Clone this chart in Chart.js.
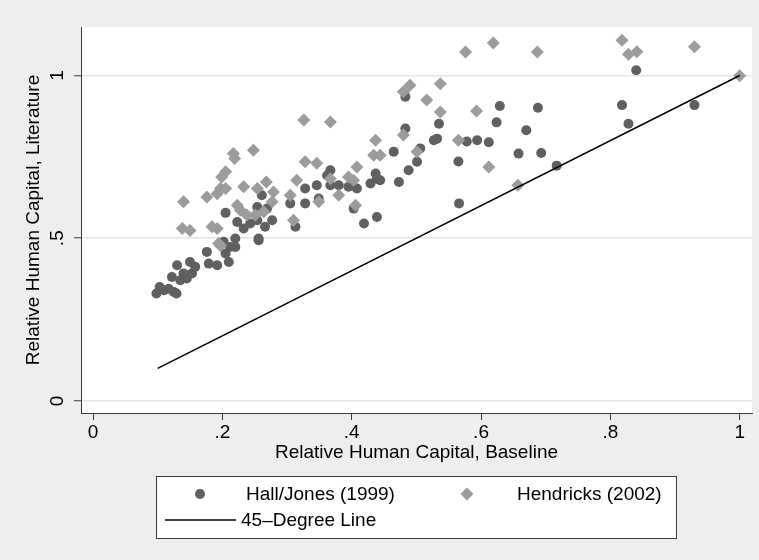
<!DOCTYPE html>
<html>
<head>
<meta charset="utf-8">
<script src="https://cdn.jsdelivr.net/npm/chart.js@4.4.1/dist/chart.umd.min.js"></script>
<style>
  html, body { margin: 0; padding: 0; background: #eeeeee; }
  #wrap { width: 759px; height: 560px; }
</style>
</head>
<body>
<div id="wrap"><canvas id="chart" width="759" height="560"></canvas></div>
<script>
// data
const hallJonesX = [0.098,0.103,0.110,0.117,0.125,0.129,0.122,0.130,0.135,0.140,0.145,0.150,0.153,0.158,0.176,0.179,0.192,0.210,0.205,0.220,0.256,0.205,0.261,0.305,0.254,0.269,0.277,0.223,0.233,0.243,0.254,0.266,0.256,0.220,0.212,0.202,0.313,0.483,0.535,0.527,0.532,0.506,0.465,0.501,0.488,0.473,0.437,0.439,0.444,0.429,0.408,0.395,0.380,0.367,0.362,0.367,0.346,0.328,0.328,0.349,0.403,0.419,0.439,0.629,0.688,0.624,0.670,0.578,0.594,0.612,0.658,0.693,0.565,0.717,0.566,0.840,0.818,0.828,0.930,0.483];
const hallJonesY = [0.330,0.350,0.340,0.345,0.335,0.330,0.381,0.417,0.371,0.392,0.376,0.427,0.392,0.412,0.458,0.422,0.417,0.427,0.453,0.473,0.494,0.578,0.632,0.607,0.596,0.591,0.555,0.550,0.530,0.545,0.555,0.535,0.499,0.499,0.473,0.489,0.535,0.837,0.852,0.801,0.806,0.776,0.766,0.735,0.709,0.673,0.699,0.683,0.678,0.668,0.653,0.658,0.663,0.709,0.693,0.663,0.663,0.653,0.607,0.622,0.591,0.545,0.565,0.906,0.901,0.856,0.832,0.797,0.801,0.795,0.760,0.762,0.736,0.723,0.607,1.016,0.909,0.852,0.909,0.935];

const hendricksX = [0.197,0.140,0.217,0.219,0.248,0.205,0.199,0.176,0.192,0.197,0.205,0.233,0.254,0.268,0.279,0.223,0.228,0.238,0.251,0.264,0.277,0.138,0.150,0.184,0.192,0.194,0.305,0.315,0.310,0.326,0.367,0.437,0.480,0.328,0.346,0.380,0.395,0.408,0.403,0.434,0.444,0.349,0.406,0.501,0.367,0.537,0.537,0.593,0.565,0.612,0.657,0.818,0.828,0.841,0.930,1.000,0.576,0.619,0.687,0.516,0.480,0.490];
const hendricksY = [0.478,0.612,0.760,0.745,0.770,0.704,0.688,0.627,0.637,0.653,0.653,0.658,0.653,0.673,0.642,0.601,0.586,0.571,0.571,0.581,0.612,0.530,0.524,0.535,0.530,0.484,0.632,0.678,0.555,0.863,0.857,0.801,0.817,0.735,0.730,0.632,0.688,0.719,0.678,0.755,0.755,0.612,0.601,0.766,0.683,0.975,0.888,0.891,0.801,0.719,0.663,1.108,1.065,1.073,1.088,0.999,1.072,1.100,1.072,0.925,0.950,0.970];

const lineX = [0.1, 1];
const lineY = [0.1, 1];

const xTicks = [0, 0.2, 0.4, 0.6, 0.8, 1];
const xTickLabels = ["0", ".2", ".4", ".6", ".8", "1"];
const yTicks = [0, 0.5, 1];
const yTickLabels = ["0", ".5", "1"];

const seriesNames = ["Hall/Jones (1999)", "Hendricks (2002)", "45\u2013Degree Line"];

const toPoints = (xs, ys) => xs.map((x, i) => ({ x: x, y: ys[i] }));

const FONT = "'Liberation Sans', Arial, sans-serif";
const darkGray = "#606060";
const lightGray = "#9c9c9c";
const axisColor = "#3a3a3a";

// white plot region on gray background
const plotBg = {
  id: "plotBg",
  beforeDraw(chart) {
    const { ctx, chartArea: a } = chart;
    ctx.save();
    ctx.fillStyle = "#eeeeee";
    ctx.fillRect(0, 0, chart.width, chart.height);
    ctx.fillStyle = "#ffffff";
    ctx.fillRect(a.left, a.top, a.right - a.left, a.bottom - a.top);
    ctx.restore();
  }
};

// Stata-style legend box under the plot
const boxLegend = {
  id: "boxLegend",
  afterDraw(chart) {
    const ctx = chart.ctx;
    const ds = chart.data.datasets;
    ctx.save();
    ctx.fillStyle = "#ffffff";
    ctx.fillRect(156, 476, 520, 62);
    ctx.strokeStyle = axisColor;
    ctx.lineWidth = 1;
    ctx.strokeRect(156.5, 476.5, 520, 62);

    ctx.font = "19px " + FONT;
    ctx.textBaseline = "middle";
    ctx.textAlign = "left";

    // row 1
    ctx.fillStyle = darkGray;
    ctx.beginPath();
    ctx.arc(200, 494, 5, 0, Math.PI * 2);
    ctx.fill();
    ctx.fillStyle = lightGray;
    ctx.beginPath();
    ctx.moveTo(467, 494 - 6.5); ctx.lineTo(467 + 6.5, 494);
    ctx.lineTo(467, 494 + 6.5); ctx.lineTo(467 - 6.5, 494);
    ctx.closePath();
    ctx.fill();
    ctx.fillStyle = "#000000";
    ctx.fillText(ds[0].label, 246, 495);
    ctx.fillText(ds[1].label, 517, 495);

    // row 2
    ctx.strokeStyle = "#000000";
    ctx.lineWidth = 1.5;
    ctx.beginPath();
    ctx.moveTo(165, 520); ctx.lineTo(236, 520);
    ctx.stroke();
    ctx.fillText(ds[2].label, 241, 521);
    ctx.restore();
  }
};

new Chart(document.getElementById("chart"), {
  type: "scatter",
  data: {
    datasets: [
      {
        label: seriesNames[0],
        data: toPoints(hallJonesX, hallJonesY),
        pointStyle: "circle",
        pointRadius: 5,
        pointHoverRadius: 5,
        backgroundColor: darkGray,
        borderWidth: 0,
        order: 2
      },
      {
        label: seriesNames[1],
        data: toPoints(hendricksX, hendricksY),
        pointStyle: "rectRot",
        pointRadius: 6.5,
        pointHoverRadius: 6.5,
        backgroundColor: lightGray,
        borderWidth: 0,
        order: 1
      },
      {
        label: seriesNames[2],
        data: toPoints(lineX, lineY),
        showLine: true,
        pointRadius: 0,
        borderColor: "#000000",
        borderWidth: 1.5,
        order: 0
      }
    ]
  },
  options: {
    responsive: false,
    animation: false,
    events: [],
    layout: { padding: { top: 27, right: 7, left: 0, bottom: 0 } },
    plugins: {
      legend: { display: false },
      tooltip: { enabled: false }
    },
    scales: {
      x: {
        type: "linear",
        min: -0.0186,
        max: 1.019,
        afterBuildTicks: (s) => { s.ticks = xTicks.map(v => ({ value: v })); },
        afterFit: (s) => { s.height = 147; },
        ticks: {
          callback: (v) => xTickLabels[xTicks.indexOf(v)],
          color: "#000000",
          font: { family: FONT, size: 19 },
          padding: 1,
          maxRotation: 0
        },
        grid: {
          drawOnChartArea: false,
          tickLength: 7,
          tickColor: axisColor,
          tickWidth: 1
        },
        border: { display: true, color: axisColor, width: 1 },
        title: {
          display: true,
          text: "Relative Human Capital, Baseline",
          color: "#000000",
          font: { family: FONT, size: 19 },
          padding: { top: 0, bottom: 96 }
        }
      },
      y: {
        type: "linear",
        min: -0.037,
        max: 1.149,
        afterBuildTicks: (s) => { s.ticks = yTicks.map(v => ({ value: v })); },
        afterFit: (s) => { s.width = 81; },
        ticks: {
          callback: (v) => yTickLabels[yTicks.indexOf(v)],
          color: "#000000",
          font: { family: FONT, size: 19 },
          minRotation: 90,
          maxRotation: 90,
          crossAlign: "center",
          padding: 8
        },
        grid: {
          color: "#e4e4e4",
          lineWidth: 1.5,
          tickLength: 7,
          tickColor: axisColor,
          tickWidth: 1
        },
        border: { display: true, color: axisColor, width: 1 },
        title: {
          display: true,
          text: "Relative Human Capital, Literature",
          color: "#000000",
          font: { family: FONT, size: 19 },
          padding: { top: 22, bottom: 0 }
        }
      }
    }
  },
  plugins: [plotBg, boxLegend]
});
</script>
</body>
</html>
